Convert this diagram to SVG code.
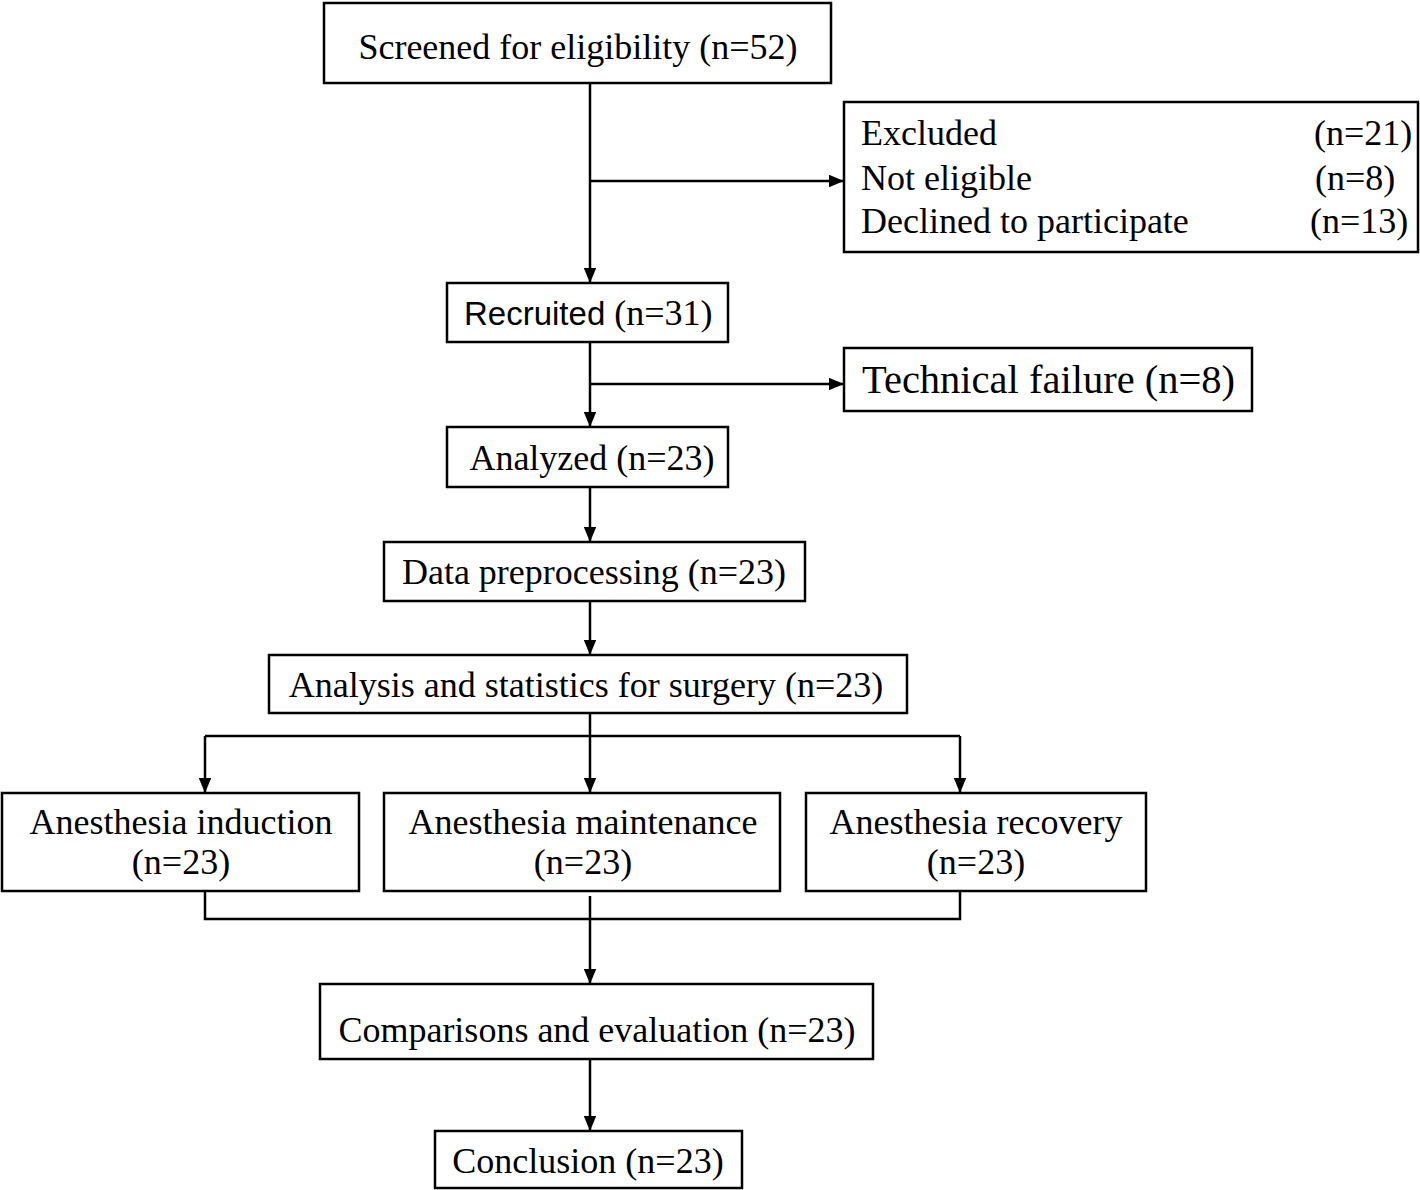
<svg xmlns="http://www.w3.org/2000/svg" width="1420" height="1190" viewBox="0 0 1420 1190">
<style>
.box{fill:#fff;stroke:#000;stroke-width:2.5}
.t{font-family:"Liberation Serif","Times New Roman",serif;font-size:36px;fill:#000}
.m{text-anchor:middle}
.sans{font-family:"Liberation Sans",Arial,sans-serif;font-size:33px}
.ln{fill:none;stroke:#000;stroke-width:2.5}
</style>
<defs>
<marker id="ah" viewBox="0 0 12 10" refX="12" refY="5" markerWidth="6" markerHeight="5" markerUnits="strokeWidth" orient="auto">
<path d="M0,0 L12,5 L0,10 z" fill="#000"/>
</marker>
</defs>
<rect width="1420" height="1190" fill="#fff"/>
<g id="connectors">
<path class="ln" d="M590,83 V283" marker-end="url(#ah)"/>
<path class="ln" d="M590,181 H844" marker-end="url(#ah)"/>
<path class="ln" d="M590,342 V427" marker-end="url(#ah)"/>
<path class="ln" d="M590,384 H844" marker-end="url(#ah)"/>
<path class="ln" d="M590,487 V542" marker-end="url(#ah)"/>
<path class="ln" d="M590,601 V655" marker-end="url(#ah)"/>
<path class="ln" d="M590,713 V793" marker-end="url(#ah)"/>
<path class="ln" d="M205,736 H960"/>
<path class="ln" d="M205,736 V793" marker-end="url(#ah)"/>
<path class="ln" d="M960,736 V793" marker-end="url(#ah)"/>
<path class="ln" d="M205,891 V919 H960 V891"/>
<path class="ln" d="M590,896 V984" marker-end="url(#ah)"/>
<path class="ln" d="M590,1059 V1131" marker-end="url(#ah)"/>
</g>
<g id="screened">
<rect class="box" x="324" y="3" width="507" height="80"/>
<text class="t m" x="578" y="59">Screened for eligibility (n=52)</text>
</g>
<g id="excluded">
<rect class="box" x="844" y="102" width="574" height="150"/>
<text class="t" x="861" y="145">Excluded</text>
<text class="t" x="1314" y="145">(n=21)</text>
<text class="t" x="861" y="190">Not eligible</text>
<text class="t" x="1315" y="190">(n=8)</text>
<text class="t" x="861" y="233">Declined to participate</text>
<text class="t" x="1310" y="233">(n=13)</text>
</g>
<g id="recruited">
<rect class="box" x="447" y="283" width="281" height="59"/>
<text class="t" x="464" y="325"><tspan class="sans">Recruited</tspan> (n=31)</text>
</g>
<g id="technical">
<rect class="box" x="844" y="348" width="408" height="63"/>
<text class="t" x="862" y="393" style="font-size:40.5px">Technical failure (n=8)</text>
</g>
<g id="analyzed">
<rect class="box" x="447" y="427" width="281" height="60"/>
<text class="t m" x="592" y="470">Analyzed (n=23)</text>
</g>
<g id="preprocessing">
<rect class="box" x="384" y="542" width="421" height="59"/>
<text class="t m" x="594" y="584">Data preprocessing (n=23)</text>
</g>
<g id="analysis">
<rect class="box" x="269" y="655" width="638" height="58"/>
<text class="t m" x="586" y="697">Analysis and statistics for surgery (n=23)</text>
</g>
<g id="induction">
<rect class="box" x="2" y="793" width="357" height="98"/>
<text class="t m" x="181" y="834">Anesthesia induction</text>
<text class="t m" x="181" y="874">(n=23)</text>
</g>
<g id="maintenance">
<rect class="box" x="384" y="793" width="396" height="98"/>
<text class="t m" x="583" y="834">Anesthesia maintenance</text>
<text class="t m" x="583" y="874">(n=23)</text>
</g>
<g id="recovery">
<rect class="box" x="806" y="793" width="340" height="98"/>
<text class="t m" x="976" y="834">Anesthesia recovery</text>
<text class="t m" x="976" y="874">(n=23)</text>
</g>
<g id="comparisons">
<rect class="box" x="320" y="984" width="553" height="75"/>
<text class="t m" x="597" y="1042">Comparisons and evaluation (n=23)</text>
</g>
<g id="conclusion">
<rect class="box" x="435" y="1131" width="307" height="57"/>
<text class="t m" x="588" y="1173">Conclusion (n=23)</text>
</g>
</svg>
